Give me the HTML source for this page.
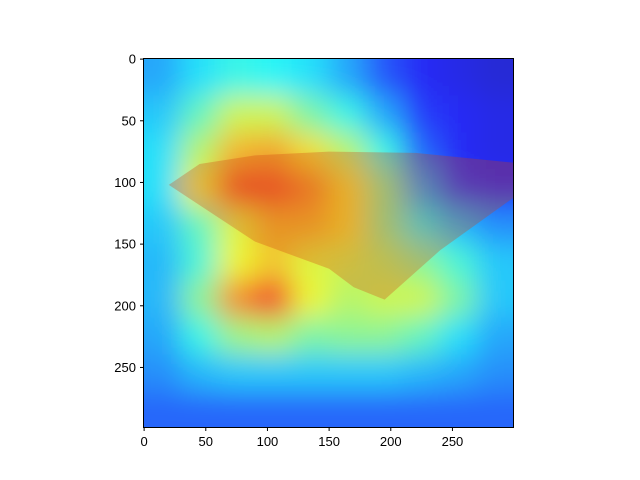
<!DOCTYPE html>
<html><head><meta charset="utf-8"><style>
html,body{margin:0;padding:0;background:#fff;width:640px;height:480px;overflow:hidden}
text{font-family:"Liberation Sans","DejaVu Sans",sans-serif;font-size:13px;fill:#000}
</style></head><body>
<svg id="chart" width="640" height="480" viewBox="0 0 640 480" xmlns="http://www.w3.org/2000/svg">
<defs>
<filter id="blur" x="-10%" y="-10%" width="120%" height="120%"><feGaussianBlur stdDeviation="14"/></filter>
<clipPath id="clip"><rect x="143.5" y="58.5" width="370" height="369"/></clipPath>
</defs>
<g clip-path="url(#clip)">
<g id="cells" filter="url(#blur)"></g>
<g id="overlay"></g>
</g>
<rect x="143.5" y="58.5" width="370" height="369" fill="none" stroke="#000" stroke-width="1"/>
<g id="axes"></g>
</svg>
<script>
const heatRows = [
 [0.28,0.35,0.40,0.38,0.35,0.28,0.18,0.12,0.10,0.08],
 [0.32,0.45,0.58,0.58,0.48,0.40,0.28,0.15,0.12,0.10],
 [0.35,0.55,0.70,0.72,0.65,0.55,0.40,0.20,0.12,0.10],
 [0.35,0.62,0.82,0.82,0.75,0.65,0.50,0.28,0.15,0.12],
 [0.32,0.45,0.60,0.70,0.70,0.65,0.50,0.38,0.30,0.25],
 [0.30,0.42,0.62,0.68,0.60,0.58,0.55,0.50,0.42,0.32],
 [0.30,0.50,0.75,0.85,0.62,0.55,0.58,0.58,0.48,0.32],
 [0.28,0.40,0.52,0.55,0.48,0.50,0.50,0.45,0.35,0.28],
 [0.25,0.30,0.32,0.32,0.32,0.32,0.32,0.30,0.28,0.25],
 [0.20,0.20,0.20,0.20,0.20,0.20,0.20,0.20,0.20,0.20]
];
const xTicks = [0,50,100,150,200,250];
const yTicks = [0,50,100,150,200,250];
const balloon = [[20,102],[45,85],[90,78],[150,75],[220,76],[300,84],[300,112],[240,155],[195,195],[170,185],[150,170],[90,148]];

const NS="http://www.w3.org/2000/svg";
const X0=143.5, Y0=58.5, S=370/300;
const sx=v=>X0+(v+0.5)*S, sy=v=>Y0+(v+0.5)*S;
function jet(v){
  const c=t=>Math.max(0,Math.min(1,t));
  const r=c(1.5-Math.abs(4*v-3)), g=c(1.5-Math.abs(4*v-2)), b=c(1.5-Math.abs(4*v-1));
  const m=0.2;
  return `rgb(${Math.round((r*(1-m)+0.75*m)*255)},${Math.round((g*(1-m)+0.8*m)*255)},${Math.round((b*(1-m)+0.9*m)*255)})`;
}
const cells=document.getElementById('cells');
const n=heatRows.length, cw=300/10;
for(let i=-1;i<=n;i++){for(let j=-1;j<=10;j++){
  const ri=Math.max(0,Math.min(n-1,i)), cj=Math.max(0,Math.min(9,j));
  const r=document.createElementNS(NS,'rect');
  
  
  r.setAttribute('x',sx(j*cw-0.5)); r.setAttribute('y',sy(i*cw-0.5));
  r.setAttribute('width',cw*S+1); r.setAttribute('height',cw*S+1);
  r.setAttribute('fill',jet(heatRows[ri][cj]));
  cells.appendChild(r);
}}
const ov=document.getElementById('overlay');
const p=document.createElementNS(NS,'polygon');


p.setAttribute('points',balloon.map(q=>sx(q[0])+','+sy(q[1])).join(' '));
p.setAttribute('fill','#d04010'); p.setAttribute('fill-opacity','0.3');
ov.appendChild(p);
const ax=document.getElementById('axes');
xTicks.forEach(t=>{
  const l=document.createElementNS(NS,'line');
  
  
  l.setAttribute('x1',sx(t));l.setAttribute('x2',sx(t));l.setAttribute('y1',427.5);l.setAttribute('y2',431);l.setAttribute('stroke','#000');
  ax.appendChild(l);
  const tx=document.createElementNS(NS,'text');
  
  
  tx.setAttribute('x',sx(t));tx.setAttribute('y',446);tx.setAttribute('text-anchor','middle');tx.textContent=t;
  ax.appendChild(tx);
});
yTicks.forEach(t=>{
  const l=document.createElementNS(NS,'line');
  
  
  l.setAttribute('x1',140);l.setAttribute('x2',143.5);l.setAttribute('y1',sy(t));l.setAttribute('y2',sy(t));l.setAttribute('stroke','#000');
  ax.appendChild(l);
  const tx=document.createElementNS(NS,'text');
  
  
  tx.setAttribute('x',136);tx.setAttribute('y',sy(t)+4.5);tx.setAttribute('text-anchor','end');tx.textContent=t;
  ax.appendChild(tx);
});
</script>
</body></html>
